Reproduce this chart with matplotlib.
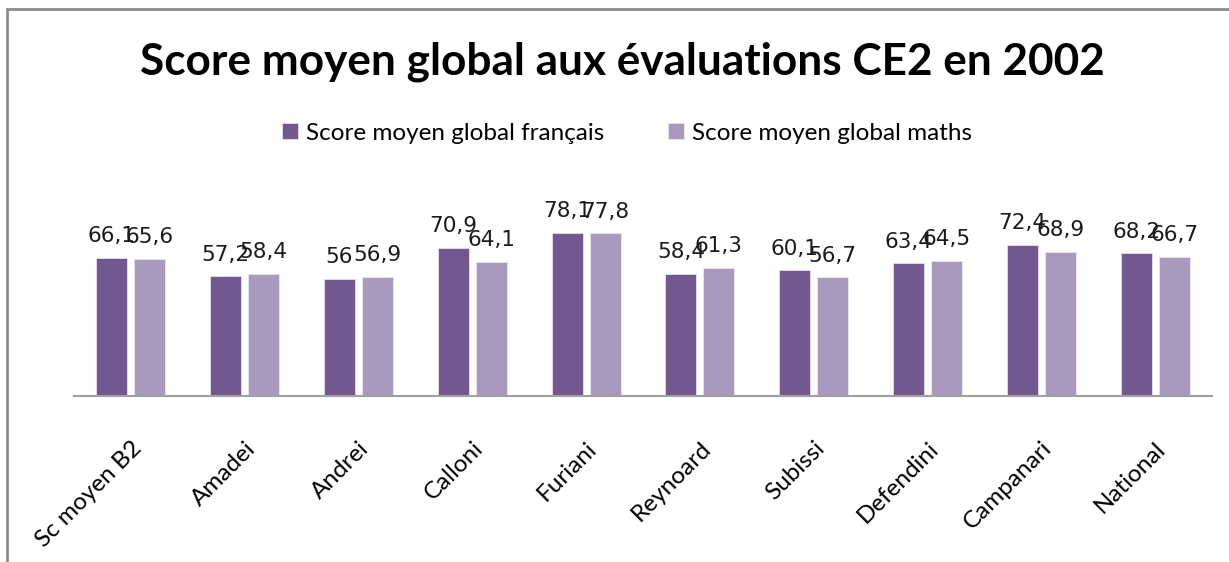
import matplotlib
matplotlib.use("Agg")
import matplotlib.pyplot as plt
import numpy as np
from matplotlib.patches import Rectangle

categories = ["Sc moyen B2", "Amadei", "Andrei", "Calloni", "Furiani",
              "Reynoard", "Subissi", "Defendini", "Campanari", "National"]
francais = [66.1, 57.2, 56, 70.9, 78.1, 58.4, 60.1, 63.4, 72.4, 68.2]
maths = [65.6, 58.4, 56.9, 64.1, 77.8, 61.3, 56.7, 64.5, 68.9, 66.7]
labels_fr = ["66,1", "57,2", "56", "70,9", "78,1", "58,4", "60,1", "63,4", "72,4", "68,2"]
labels_ma = ["65,6", "58,4", "56,9", "64,1", "77,8", "61,3", "56,7", "64,5", "68,9", "66,7"]
series_names = ["Score moyen global français", "Score moyen global maths"]
title = "Score moyen global aux évaluations CE2 en 2002"

W, H = 1229, 562
fig = plt.figure(figsize=(W / 100, H / 100), dpi=100)

# outer frame (extends past right/bottom edges)
fig.patches.append(Rectangle((7 / W, -0.1), 1.2, (H - 9) / H + 0.1,
                             transform=fig.transFigure, fill=False,
                             edgecolor="#8c8c8c", linewidth=2.0, zorder=0))

ymax = 90
x0, x1 = 74, 1212
yb = 396
ytop = yb - ymax * 2.09
ax = fig.add_axes([x0 / W, 1 - yb / H, (x1 - x0) / W, (yb - ytop) / H])

c_fr = "#71588F"
c_ma = "#A89ABF"
x = np.arange(len(categories))
w = 0.272
off = 0.167
b1 = ax.bar(x - off, francais, w, color=c_fr, edgecolor="#e6e0ee", linewidth=0.6, label=series_names[0])
b2 = ax.bar(x + off, maths, w, color=c_ma, edgecolor="#ece8f2", linewidth=0.6, label=series_names[1])

for bars, labs in ((b1, labels_fr), (b2, labels_ma)):
    for rect, lab in zip(bars, labs):
        ax.annotate(lab, (rect.get_x() + rect.get_width() / 2, rect.get_height()),
                    xytext=(0, 8.5), textcoords="offset points", ha="center", va="bottom",
                    fontsize=15.5, family="DejaVu Sans", color="#1a1a1a")

ax.set_xlim(-0.5, len(categories) - 0.5)
ax.set_ylim(0, ymax)
ax.set_yticks([])
for s in ["top", "right", "left"]:
    ax.spines[s].set_visible(False)
ax.spines["bottom"].set_color("#a0a0a0")
ax.spines["bottom"].set_linewidth(1.5)
ax.set_xticks(x)
ax.set_xticklabels(categories, rotation=45, ha="right", rotation_mode="anchor",
                   fontsize=17.5, family="Lato")
ax.tick_params(axis="x", length=0, pad=30)

fig.text(622 / W, 1 - 62 / H, title, ha="center", va="center",
         fontsize=31.8, fontweight="bold", family="Lato")

leg = fig.legend(handles=[b1, b2], labels=series_names, loc="center",
                 bbox_to_anchor=(627 / W, 1 - 133 / H), ncol=2, frameon=False,
                 prop={"family": "Lato", "size": 17.5}, handlelength=0.65,
                 handleheight=0.65, handletextpad=0.35, columnspacing=2.6)

fig.savefig("out.png", dpi=100)
